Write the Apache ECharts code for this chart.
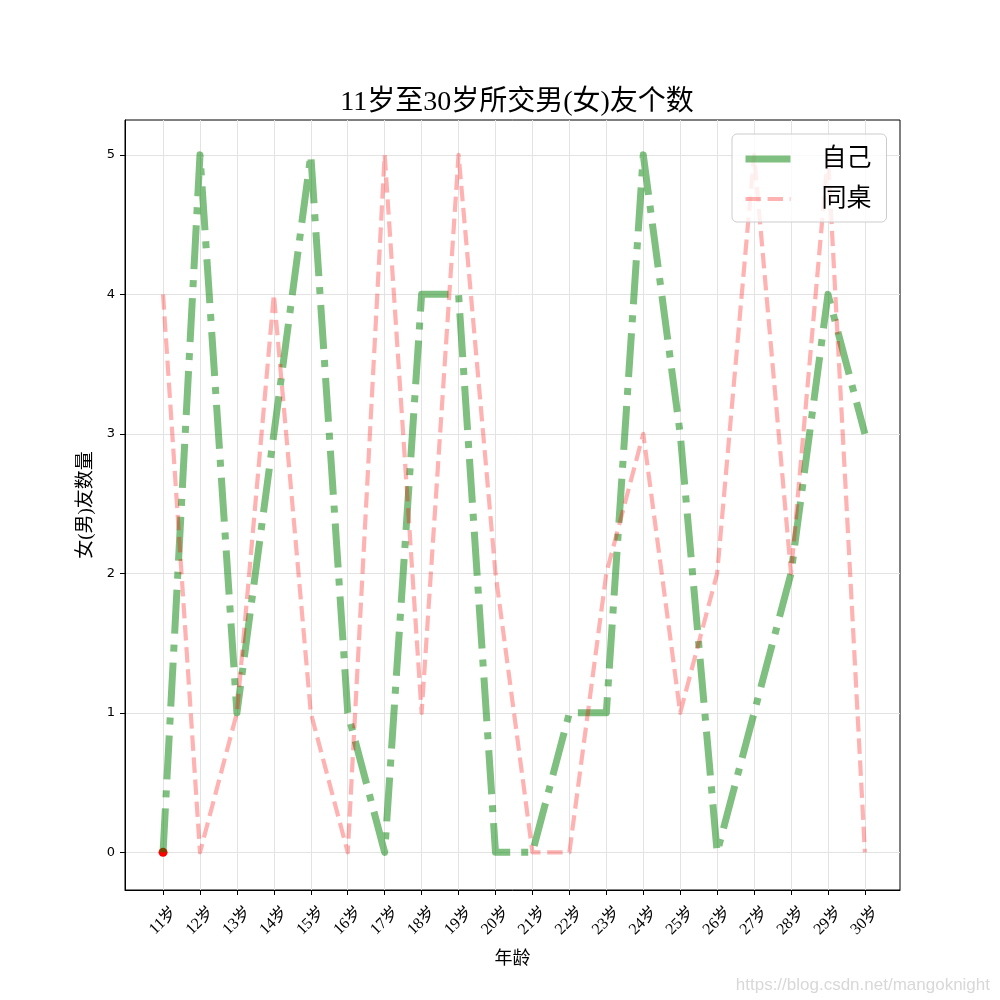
<!DOCTYPE html>
<html>
<head>
<meta charset="utf-8">
<script src="https://cdn.jsdelivr.net/npm/echarts@6/dist/echarts.min.js"></script>
<style>html,body{margin:0;padding:0;background:#fff;}#c{width:1000px;height:1000px;}</style>
</head>
<body>
<div id="c"></div>
<script>
const ages = ['11岁','12岁','13岁','14岁','15岁','16岁','17岁','18岁','19岁','20岁','21岁','22岁','23岁','24岁','25岁','26岁','27岁','28岁','29岁','30岁'];
const selfCounts = [0,5,1,3,5,1,0,4,4,0,0,1,1,5,3,0,1,2,4,3];
const deskmateCounts = [4,0,1,4,1,0,5,1,5,2,0,0,2,3,1,2,5,2,5,0];
const yTicks = [0,1,2,3,4,5];
const highlightPoint = [[0, 0]];

const xTicks = ages.map((_, i) => i);
const serifFont = "'Liberation Serif','Noto Sans CJK SC',serif";
const greenColor = 'rgba(0,128,0,0.5)';
const pinkColor = 'rgba(255,0,0,0.3)';

const chart = echarts.init(document.getElementById('c'));
chart.setOption({
  animation: false,
  backgroundColor: '#fff',
  title: {
    text: '11岁至30岁所交男(女)友个数',
    left: 512, top: 84, textAlign: 'center',
    textStyle: { fontFamily: serifFont, fontSize: 28, fontWeight: 'normal', color: '#000' }
  },
  grid: { left: 125, right: 100, top: 120, bottom: 110, show: true, borderColor: '#000', borderWidth: 1, backgroundColor: 'transparent' },
  legend: {
    orient: 'vertical', left: 732, top: 134,
    padding: [12, 15, 10, 10],
    borderColor: '#ccc', borderWidth: 1, borderRadius: 5,
    backgroundColor: 'rgba(255,255,255,0.8)',
    itemWidth: 45, itemHeight: 20, itemGap: 14,
    textStyle: { fontFamily: serifFont, fontSize: 25, lineHeight: 26, color: '#000', padding: [0, 0, 0, 26] },
    data: [
      { name: '自己', itemStyle: { opacity: 0 }, lineStyle: { type: 'solid', width: 7, color: greenColor } },
      { name: '同桌', itemStyle: { opacity: 0 }, lineStyle: { type: [15.4, 6.7], width: 4.2, color: pinkColor } }
    ]
  },
  xAxis: {
    type: 'value', min: -1.03, max: 19.95,
    name: '年龄', nameLocation: 'middle', nameGap: 60,
    nameTextStyle: { fontFamily: serifFont, fontSize: 18, color: '#000' },
    axisLine: { show: true, onZero: false, lineStyle: { color: '#000' } },
    axisTick: { show: true, length: 5, inside: false, customValues: xTicks, lineStyle: { color: '#000' } },
    axisLabel: {
      customValues: xTicks, rotate: 45, margin: 31, align: 'center', verticalAlign: 'middle',
      fontFamily: serifFont, fontSize: 16, color: '#000',
      formatter: v => ages[Math.round(v)] || ''
    },
    splitLine: { show: true, lineStyle: { color: '#e3e3e3', width: 1 } }
  },
  yAxis: {
    type: 'value', min: -0.27, max: 5.25,
    name: '女(男)友数量', nameLocation: 'middle', nameGap: 22,
    nameTextStyle: { fontFamily: serifFont, fontSize: 19, color: '#000' },
    axisLine: { show: true, onZero: false, lineStyle: { color: '#000' } },
    axisTick: { show: true, length: 5, inside: false, customValues: yTicks, lineStyle: { color: '#000' } },
    axisLabel: { customValues: yTicks, margin: 10, fontFamily: "'DejaVu Sans',sans-serif", fontSize: 13, color: '#000' },
    splitLine: { show: true, lineStyle: { color: '#e3e3e3', width: 1 } }
  },
  series: [
    {
      name: 'dot', type: 'scatter', data: highlightPoint, symbolSize: 9,
      itemStyle: { color: '#ff0000', opacity: 1 }, z: 1, silent: true
    },
    {
      name: '自己', type: 'line', showSymbol: false, symbol: 'none',
      data: selfCounts.map((v, i) => [i, v]),
      lineStyle: { color: greenColor, width: 7, type: [44, 11, 7, 11], cap: 'butt', join: 'round' },
      itemStyle: { color: greenColor },
      z: 2
    },
    {
      name: '同桌', type: 'line', showSymbol: false, symbol: 'none',
      data: deskmateCounts.map((v, i) => [i, v]),
      lineStyle: { color: pinkColor, width: 4.2, type: [15.4, 6.7], cap: 'butt', join: 'round' },
      itemStyle: { color: pinkColor },
      z: 3
    }
  ],
  graphic: [
    {
      type: 'text', right: 10, bottom: 6,
      style: { text: 'https://blog.csdn.net/mangoknight', fill: '#d8d8d8', fontSize: 17, fontFamily: "'Liberation Sans',Arial,sans-serif" }
    }
  ]
});
</script>
</body>
</html>
